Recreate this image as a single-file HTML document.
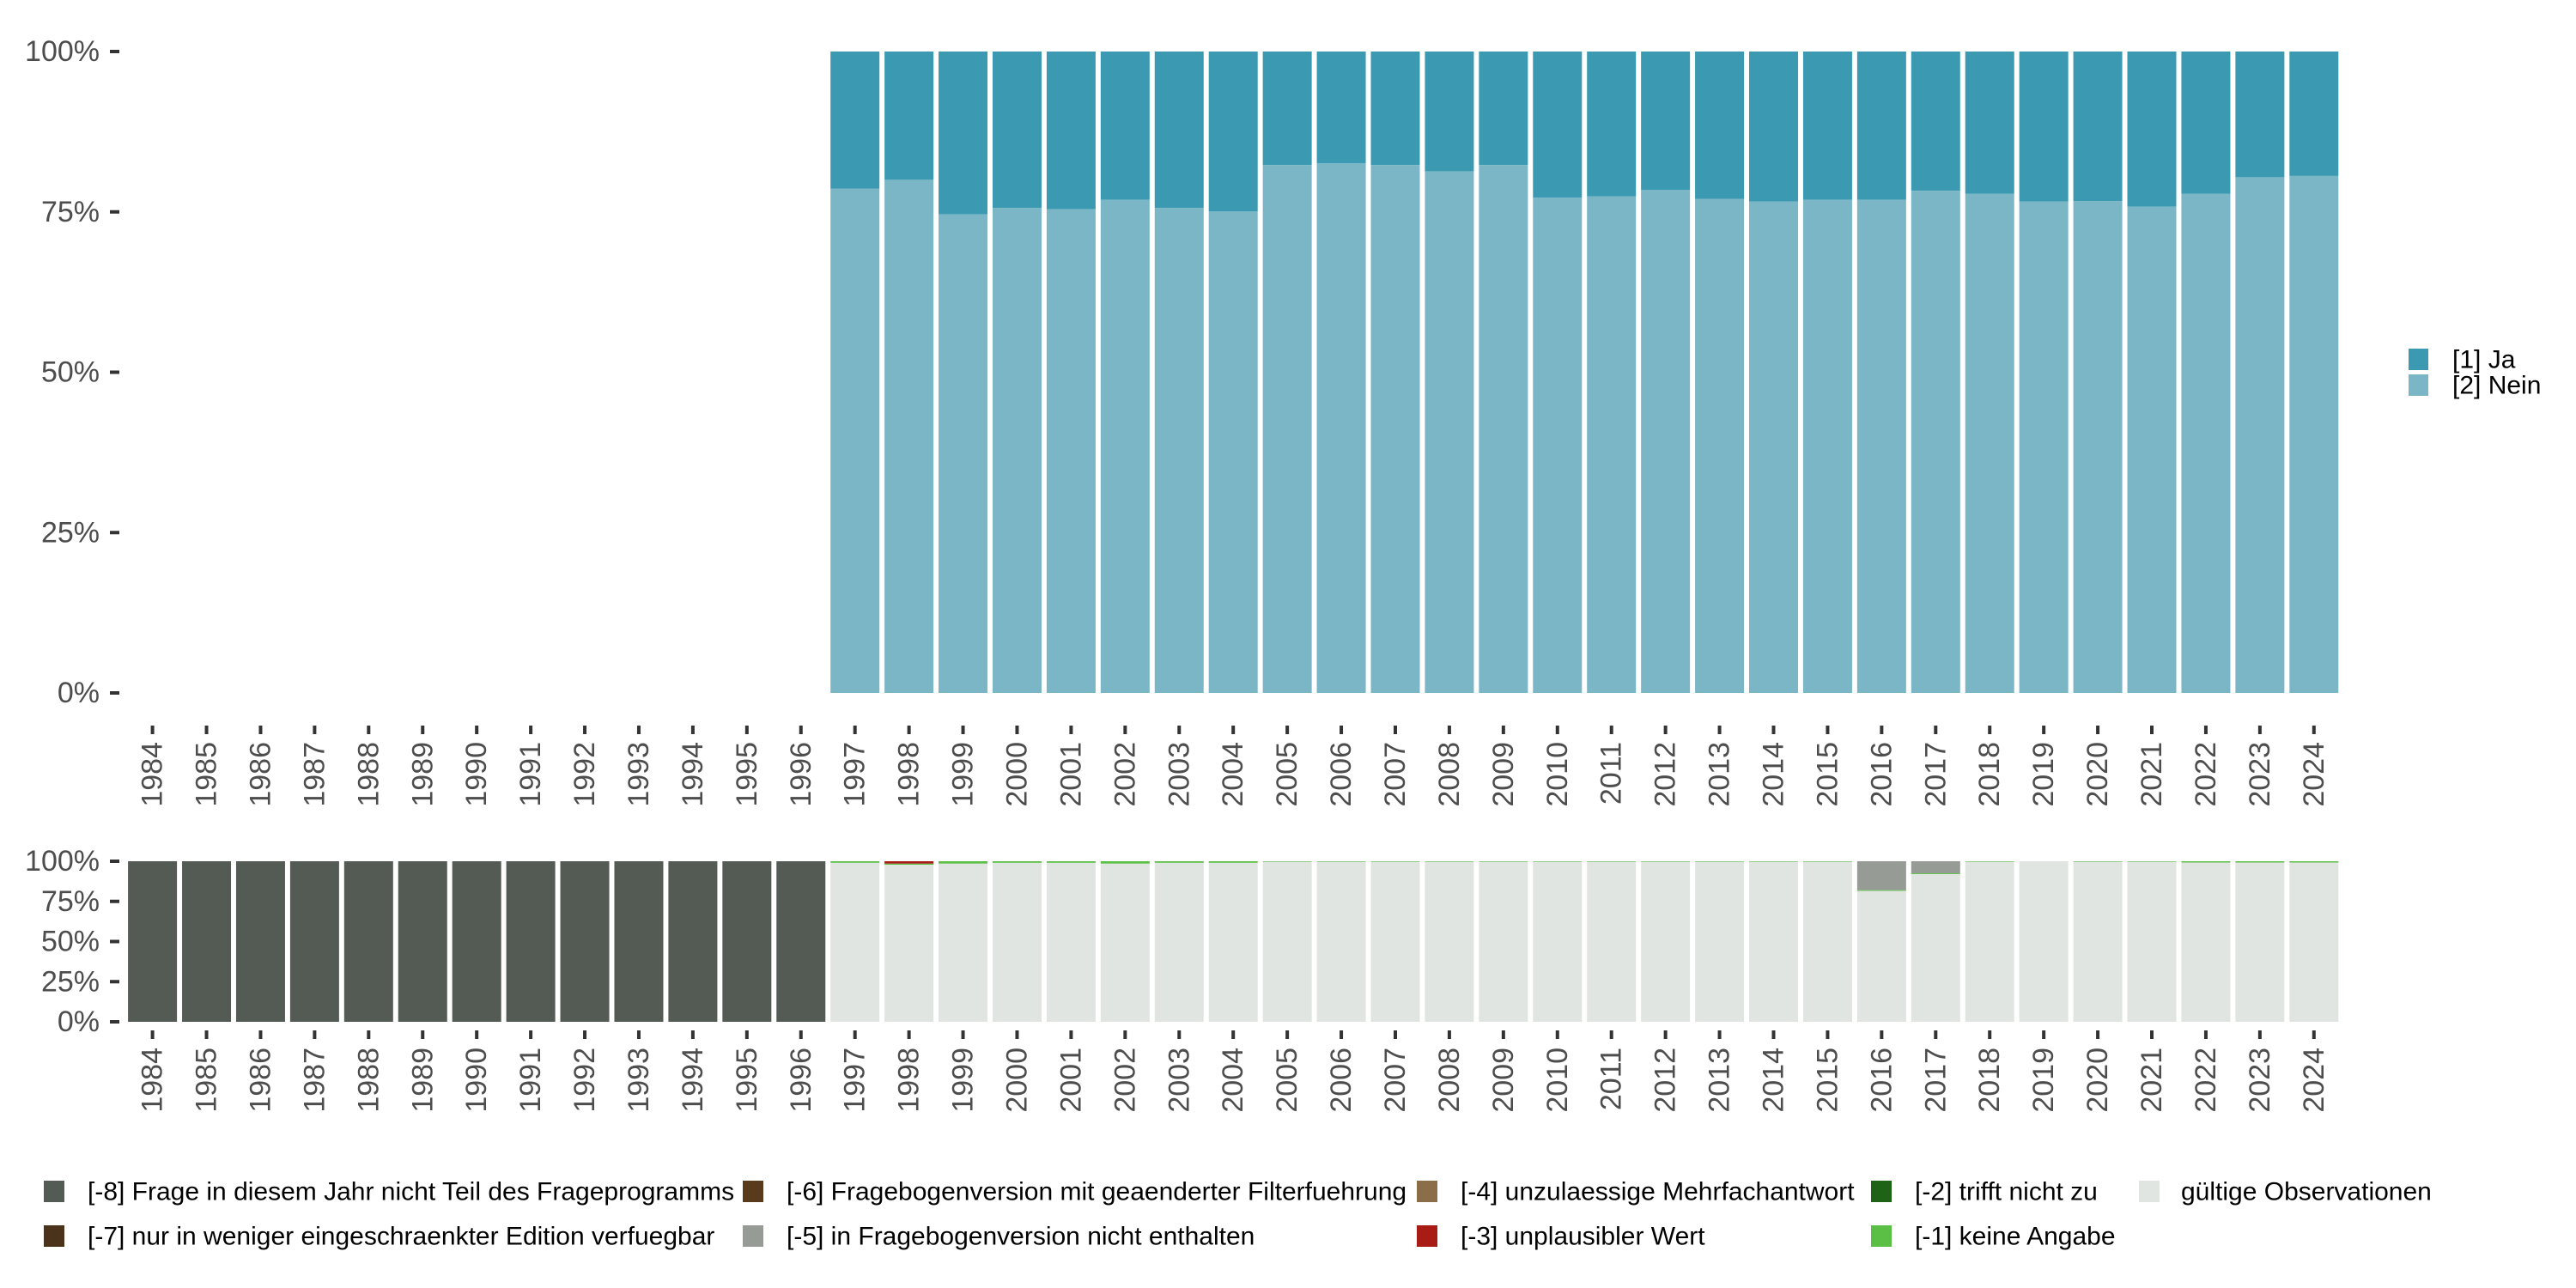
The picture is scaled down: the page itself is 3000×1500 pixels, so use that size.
<!DOCTYPE html>
<html><head><meta charset="utf-8"><style>
html,body{margin:0;padding:0;background:#fff;}
svg{display:block;font-family:"Liberation Sans",sans-serif;}
</style></head><body>
<svg id="chart" width="3000" height="1500" viewBox="0 0 3000 1500" xmlns="http://www.w3.org/2000/svg">
<g id="topg"></g>
<g id="bot"></g>
<g id="leg"></g>
</svg>
<script>
const years = [];
for (let y = 1984; y <= 2024; y++) years.push(y);
// Top chart: share of "[2] Nein" (%) per year 1997..2024; Ja = 100 - Nein
const topYears = [1997,1998,1999,2000,2001,2002,2003,2004,2005,2006,2007,2008,2009,2010,2011,2012,2013,2014,2015,2016,2017,2018,2019,2020,2021,2022,2023,2024];
const neinShare = [78.6,80.0,74.6,75.6,75.4,76.9,75.6,75.1,82.3,82.6,82.3,81.3,82.3,77.2,77.4,78.4,77.0,76.6,76.9,76.9,78.3,77.8,76.6,76.7,75.8,77.8,80.4,80.6];
// Bottom chart shares (%) per year 1984..2024
const m8 = [100,100,100,100,100,100,100,100,100,100,100,100,100,0,0,0,0,0,0,0,0,0,0,0,0,0,0,0,0,0,0,0,0,0,0,0,0,0,0,0,0];
const m5 = [0,0,0,0,0,0,0,0,0,0,0,0,0,0,0,0,0,0,0,0,0,0,0,0,0,0,0,0,0,0,0,0,18,7.5,0,0,0,0,0,0,0];
const m3 = [0,0,0,0,0,0,0,0,0,0,0,0,0,0,1.5,0,0,0,0,0,0,0,0,0,0,0,0,0,0,0,0,0,0,0,0,0,0,0,0,0,0];
const m1 = [0,0,0,0,0,0,0,0,0,0,0,0,0,1,0.7,1.5,1,1,1.5,1,1,0.4,0.4,0.4,0.4,0.4,0.4,0.4,0.4,0.4,0.4,0.4,0.5,0.5,0.4,0,0.4,0.4,0.8,0.8,0.8];
const yTicks = [0,25,50,75,100];
const yTickLabels = ["0%","25%","50%","75%","100%"];

const NS="http://www.w3.org/2000/svg";
function el(tag, attrs, parent){const e=document.createElementNS(NS,tag);for(const k in attrs)e.setAttribute(k,attrs[k]);parent.appendChild(e);return e;}
const x0=177.6, step=62.93, bw=57;
function xc(i){return x0+step*i;}
function yTop(v){return 807-(807-60)*v/100;}
function yBot(v){return 1190-(1190-1003)*v/100;}

function axes(g, yf, tickY0, labTop, name){
  yTicks.forEach((t,i)=>{
    const ln=el('line',{x1:128,x2:139,y1:yf(t),y2:yf(t),stroke:'#333','stroke-width':4},g);
    
    
    const tx=el('text',{x:116,y:yf(t),'text-anchor':'end','dominant-baseline':'central','font-size':34,fill:'#4d4d4d'},g);
    tx.textContent=yTickLabels[i];
    
    
  });
  years.forEach((yr,i)=>{
    const ln=el('line',{x1:xc(i),x2:xc(i),y1:tickY0,y2:tickY0+10,stroke:'#333','stroke-width':4},g);
    
    
    const tx=el('text',{x:0,y:0,'text-anchor':'end','dominant-baseline':'central','font-size':34,fill:'#4d4d4d',transform:`translate(${xc(i)},${labTop}) rotate(-90)`},g);
    tx.textContent=yr;
    
    
  });
}

const topG=document.getElementById('topg');
topYears.forEach((yr,k)=>{
  const i=years.indexOf(yr);
  const n=neinShare[k];
  const r1=el('rect',{x:xc(i)-bw/2,y:yTop(100),width:bw,height:yTop(n)-yTop(100),fill:'#3b99b1'},topG);
  
  
  const r2=el('rect',{x:xc(i)-bw/2,y:yTop(n),width:bw,height:yTop(0)-yTop(n),fill:'#7ab6c5'},topG);
  
  
});
axes(topG,yTop,845,864,'top');

const botG=document.getElementById('bot');
const segs=[[m8,'#545b55','m8'],[m5,'#979b95','m5'],[m3,'#a81c15','m3'],[m1,'#5bbf45','m1']];
years.forEach((yr,i)=>{
  let cum=100;
  segs.forEach(([arr,col,nm])=>{
    const v=arr[i]; if(v<=0) return;
    const r=el('rect',{x:xc(i)-bw/2,y:yBot(cum),width:bw,height:yBot(cum-v)-yBot(cum),fill:col},botG);
    
    
    cum-=v;
  });
  if(cum>0){
    const r=el('rect',{x:xc(i)-bw/2,y:yBot(cum),width:bw,height:yBot(0)-yBot(cum),fill:'#e1e5e1'},botG);
    
    
  }
});
axes(botG,yBot,1200,1220,'bottom');

const legG=document.getElementById('leg');
const rl=[['[1] Ja','#3b99b1',406],['[2] Nein','#7ab6c5',436]];
rl.forEach(([t,c,y])=>{
  const r=el('rect',{x:2805,y:y,width:23,height:25,fill:c},legG);
  
  
  const tx=el('text',{x:2856,y:y+13,'dominant-baseline':'central','font-size':30,fill:'#000'},legG);
  tx.textContent=t;
  
  
});
const bl=[
 ['[-8] Frage in diesem Jahr nicht Teil des Frageprogramms','#545b55',51,102,0],
 ['[-7] nur in weniger eingeschraenkter Edition verfuegbar','#4b321a',51,102,1],
 ['[-6] Fragebogenversion mit geaenderter Filterfuehrung','#5a3a1c',865,916,0],
 ['[-5] in Fragebogenversion nicht enthalten','#979b95',865,916,1],
 ['[-4] unzulaessige Mehrfachantwort','#8b6d4a',1650,1701,0],
 ['[-3] unplausibler Wert','#a81c15',1650,1701,1],
 ['[-2] trifft nicht zu','#1f6416',2179,2230,0],
 ['[-1] keine Angabe','#5bbf45',2179,2230,1],
 ['gültige Observationen','#e1e5e1',2491,2540,0]];
bl.forEach(([t,c,sx,tx0,row])=>{
  const y=row?1427:1375;
  const r=el('rect',{x:sx,y:y,width:24,height:25,fill:c},legG);
  
  
  const tx=el('text',{x:tx0,y:y+13,'dominant-baseline':'central','font-size':30,fill:'#000'},legG);
  tx.textContent=t;
  
  
});
</script>
</body></html>
